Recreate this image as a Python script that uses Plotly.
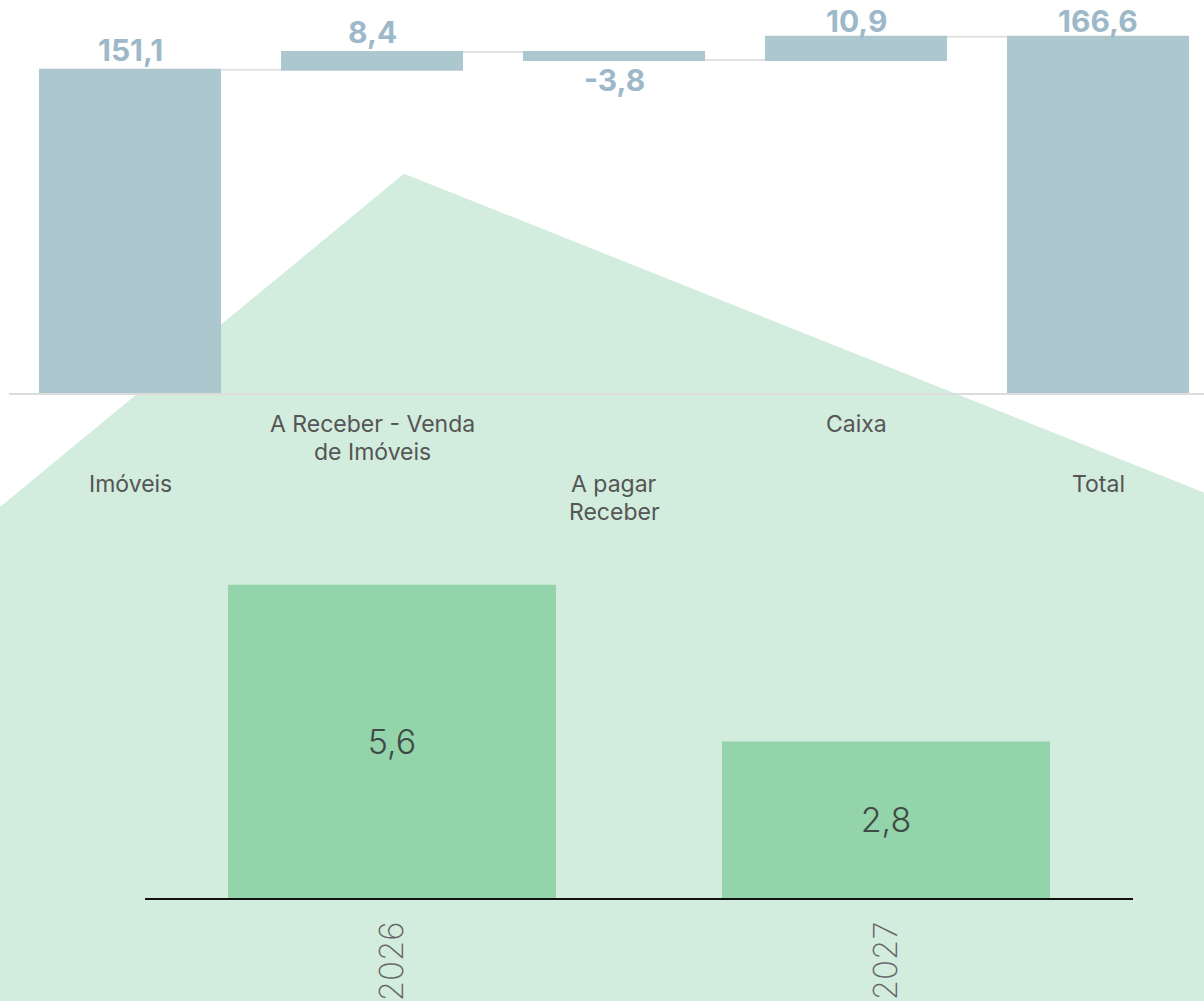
import plotly.graph_objects as go

# ---- data ----
wf_categories = ["Imóveis", "A Receber - Venda<br>de Imóveis", "A pagar<br>Receber", "Caixa", "Total"]
wf_measures = ["absolute", "relative", "relative", "relative", "total"]
wf_values = [151.1, 8.4, -3.8, 10.9, 166.6]

inset_years = ["2026", "2027"]
inset_values = [5.6, 2.8]

W, H = 1204, 1001
Y_SCALE = 2.1443   # px per unit (top chart)
Y_MAX = 394 / Y_SCALE


def fmt(v):
    return f"{v:.1f}".replace(".", ",")


def px(x, y):
    return x / W, 1 - y / H


fig = go.Figure()

fig.add_trace(go.Waterfall(
    x=list(range(len(wf_categories))),
    y=[0 if m == "total" else v for m, v in zip(wf_measures, wf_values)],
    measure=wf_measures,
    textinfo="none",
    width=0.752,
    increasing=dict(marker=dict(color="#adc7ce")),
    decreasing=dict(marker=dict(color="#adc7ce")),
    totals=dict(marker=dict(color="#adc7ce")),
    connector=dict(line=dict(color="#e2e2e2", width=2)),
    hoverinfo="skip",
    xaxis="x", yaxis="y",
    showlegend=False,
))

fig.add_trace(go.Bar(
    x=inset_years,
    y=inset_values,
    text=[fmt(v) for v in inset_values],
    texttemplate="%{text}",
    textposition="inside",
    insidetextanchor="middle",
    textfont=dict(family="Inter", size=34, color="#3f4a45", weight=300),
    marker=dict(color="#93d4ab", line=dict(width=0)),
    width=0.664,
    xaxis="x2", yaxis="y2",
    showlegend=False,
))

# green background polygon (decoration)
pts = [px(404, 174), px(1210, 496), px(1210, 1010), px(-6, 1010), px(-6, 513)]
path = "M " + " L ".join(f"{a},{b}" for a, b in pts) + " Z"
shapes = [dict(type="path", path=path, xref="paper", yref="paper",
               fillcolor="#d2ecdd", line=dict(width=0), layer="below")]

annotations = []

# value labels of the waterfall, placed from running totals
cum = 0.0
off = 20 / Y_SCALE
top_limit = (394 - 21.5) / Y_SCALE
for i, (m, v) in enumerate(zip(wf_measures, wf_values)):
    if m == "absolute":
        base, end = 0.0, v
        cum = v
    elif m == "relative":
        base, end = cum, cum + v
        cum = end
    else:
        base, end = 0.0, cum
    if v >= 0:
        yy = min(max(base, end) + off, top_limit)
    else:
        yy = min(base, end) - off
    annotations.append(dict(
        x=i, xref="x", y=yy, yref="y", text=fmt(v), showarrow=False,
        xanchor="center", yanchor="middle",
        font=dict(family="Inter", size=30, color="#9db9c9", weight=700),
    ))

# staggered category labels (one annotation per line)
row_centers = [[485, 513], [425, 453]]
for i, c in enumerate(wf_categories):
    centers = row_centers[i % 2]
    for j, line in enumerate(c.split("<br>")):
        annotations.append(dict(
            x=i, xref="x", y=1 - centers[j] / H, yref="paper",
            text=line, showarrow=False, yanchor="middle", xanchor="center",
            font=dict(family="Inter", size=23, color="#555555"),
        ))

fig.update_layout(
    width=W, height=H,
    margin=dict(l=0, r=0, t=0, b=0),
    paper_bgcolor="white",
    plot_bgcolor="rgba(0,0,0,0)",
    shapes=shapes,
    annotations=annotations,
    xaxis=dict(domain=[9 / W, 1], range=[-0.5, (1204 - 130) / 242],
               showticklabels=False, showgrid=False, zeroline=False,
               showline=True, linecolor="#dcdcdc", linewidth=2, ticks=""),
    yaxis=dict(domain=[1 - 394 / H, 1], range=[0, Y_MAX],
               showticklabels=False, showgrid=False, zeroline=False, showline=False),
    xaxis2=dict(domain=[145 / W, 1133 / W], range=[-0.5, 1.5], type="category",
                anchor="y2", showgrid=False, zeroline=False,
                showline=True, linecolor="#111111", linewidth=2, ticks="",
                tickangle=-90, ticklabelstandoff=8,
                tickfont=dict(family="Inter", size=33, color="#666666", weight=200)),
    yaxis2=dict(domain=[1 - 900 / H, 1 - 500 / H], range=[0, 400 / 56.07],
                anchor="x2", showticklabels=False, showgrid=False,
                zeroline=False, showline=False),
)

fig.write_html("out.html", config={"displayModeBar": False},
               post_script="document.body.style.margin='0';")
